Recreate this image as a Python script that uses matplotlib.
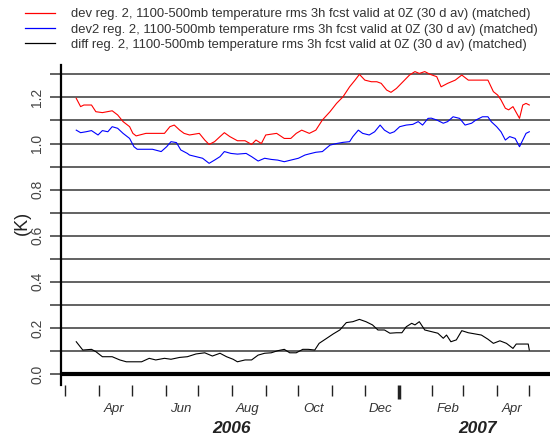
import numpy as np
import matplotlib
matplotlib.use('Agg')
from matplotlib import pyplot as plt
import matplotlib.dates as mdates
from matplotlib.lines import Line2D
from matplotlib.ticker import MultipleLocator, NullFormatter
from matplotlib.transforms import blended_transform_factory

plt.rcParams['font.family'] = ['Liberation Sans', 'DejaVu Sans']

# Datos (días desde 2006-03-01, valor en K)
start = np.datetime64('2006-03-01')

red_days = [10, 14, 17, 24, 28, 34, 43, 48, 53, 59, 62, 65, 74, 83, 91, 96, 100, 105, 109, 114,
            123, 128, 132, 137, 142, 146, 151, 158, 165, 171, 175, 180, 184, 194, 201, 207, 212,
            217, 224, 230, 236, 243, 249, 255, 261, 266, 270, 275, 281, 286, 290, 295, 299, 304,
            310, 316, 321, 325, 330, 335, 341, 345, 351, 358, 364, 370, 377, 384, 388, 393, 397,
            400, 404, 407, 411, 417, 420, 423, 426]
red_vals = [1.196, 1.160, 1.167, 1.167, 1.138, 1.134, 1.142, 1.124, 1.095, 1.073, 1.044, 1.033,
            1.044, 1.044, 1.044, 1.073, 1.080, 1.058, 1.044, 1.037,
            1.044, 1.015, 0.996, 1.008, 1.030, 1.047, 1.030, 1.012, 1.012, 0.996, 1.015, 1.000,
            1.037, 1.044, 1.022, 1.022, 1.044,
            1.058, 1.044, 1.058, 1.102, 1.138, 1.174, 1.203, 1.246, 1.275, 1.300, 1.275, 1.268,
            1.268, 1.261, 1.232, 1.222, 1.239,
            1.268, 1.297, 1.312, 1.304, 1.312, 1.300, 1.290, 1.246, 1.261, 1.275, 1.297, 1.275,
            1.275, 1.275, 1.275, 1.225, 1.210,
            1.189, 1.153, 1.146, 1.160, 1.109, 1.167, 1.174, 1.167]

blue_days = [10, 14, 19, 24, 30, 34, 39, 43, 48, 53, 59, 63, 66, 73, 80, 88, 93, 97, 102, 106,
             112, 114, 120, 126, 132, 137, 142, 146, 152, 158, 166, 171, 177, 183, 189, 195, 201,
             207, 214, 220, 224, 230, 236, 243, 249, 255, 261, 264, 269, 273, 279, 284, 289, 293,
             298, 302, 307, 313, 319, 324, 328, 333, 336, 341, 347, 351, 356, 362, 367, 373, 377,
             383, 388, 391, 396, 400, 404, 408, 413, 417, 420, 423, 426]
blue_vals = [1.058, 1.047, 1.051, 1.056, 1.037, 1.056, 1.051, 1.073, 1.066, 1.044, 1.022, 0.986,
             0.975, 0.975, 0.975, 0.965, 0.986, 1.008, 1.004, 0.972,
             0.957, 0.950, 0.943, 0.936, 0.914, 0.928, 0.943, 0.965, 0.957, 0.954, 0.957, 0.943,
             0.924, 0.936, 0.931, 0.928, 0.921,
             0.928, 0.936, 0.950, 0.955, 0.962, 0.965, 0.993, 1.000, 1.005, 1.008, 1.030, 1.058,
             1.044, 1.037, 1.051, 1.080, 1.058,
             1.044, 1.051, 1.073, 1.080, 1.083, 1.095, 1.080, 1.109, 1.110, 1.102, 1.088, 1.095,
             1.116, 1.109, 1.080, 1.088, 1.102,
             1.116, 1.116, 1.095, 1.073, 1.051, 1.015, 1.030, 1.022, 0.986, 1.015, 1.044, 1.051]

diff_days = [10, 16, 24, 28, 34, 43, 50, 56, 63, 70, 77, 83, 91, 97, 105, 112, 120, 128, 135,
             142, 148, 154, 158, 165, 171, 177, 183, 189, 195, 201, 206, 212, 218, 223, 229, 233,
             240, 246, 252, 258, 264, 270, 276, 282, 287, 293, 298, 304, 309, 313, 318, 321, 325,
             330, 336, 342, 347, 350, 354, 359, 364, 370, 376, 382, 388, 393, 399, 405, 411, 414,
             419, 425, 426]
diff_vals = [0.140, 0.104, 0.107, 0.097, 0.075, 0.075, 0.061, 0.053, 0.053, 0.053, 0.068, 0.061,
             0.068, 0.064, 0.072, 0.075, 0.087, 0.092, 0.078,
             0.090, 0.075, 0.064, 0.053, 0.061, 0.061, 0.082, 0.090, 0.092, 0.101, 0.107, 0.092,
             0.092, 0.107, 0.107, 0.104, 0.133,
             0.155, 0.174, 0.191, 0.223, 0.227, 0.237, 0.227, 0.213, 0.191, 0.191, 0.177, 0.179,
             0.179, 0.205, 0.220, 0.213, 0.227,
             0.191, 0.184, 0.177, 0.155, 0.169, 0.140, 0.148, 0.188, 0.179, 0.174, 0.169, 0.151,
             0.133, 0.144, 0.133, 0.111, 0.130,
             0.130, 0.130, 0.104]

labels = ['dev reg. 2, 1100-500mb temperature rms 3h fcst valid at 0Z (30 d av) (matched)',
          'dev2 reg. 2, 1100-500mb temperature rms 3h fcst valid at 0Z (30 d av) (matched)',
          'diff reg. 2, 1100-500mb temperature rms 3h fcst valid at 0Z (30 d av) (matched)']
colors = ['#ff0000', '#0000ff', '#000000']

fig = plt.figure(figsize=(5.57, 4.40), dpi=100)
W, H = 557, 440
ax = fig.add_axes([61 / W, 55 / H, 489 / W, 320 / H])

# Líneas de datos
for d, v, c in [(red_days, red_vals, colors[0]), (blue_days, blue_vals, colors[1]),
                (diff_days, diff_vals, colors[2])]:
    ax.plot(start + np.array(d), v, color=c, lw=0.8, zorder=3)

# Rejilla horizontal cada 0.1 y línea gruesa en cero
for yv in np.arange(0.1, 1.31, 0.1):
    ax.axhline(yv, color='#555555', lw=1.3, zorder=1)
ax.axhline(0.0, color='black', lw=3.0, zorder=2)

ax.set_ylim(-0.0477, 1.3406)
ax.set_xlim(np.datetime64('2006-02-25'), np.datetime64('2007-05-20'))

# Ejes
for s in ['top', 'right', 'bottom']:
    ax.spines[s].set_visible(False)
ax.spines['left'].set_linewidth(1.6)

ax.yaxis.set_major_locator(MultipleLocator(0.2))
ax.yaxis.set_minor_locator(MultipleLocator(0.1))
ax.yaxis.set_major_formatter(matplotlib.ticker.FormatStrFormatter('%.1f'))
ax.tick_params(axis='y', which='both', length=8, width=1.3, color='#555555',
               labelsize=10, labelcolor='#444444', pad=4)
for t in ax.get_yticklabels():
    t.set_rotation(90)
    t.set_va('center')

# Ticks mensuales y etiquetas a mitad de mes
ax.xaxis.set_major_locator(mdates.MonthLocator())
ax.xaxis.set_major_formatter(NullFormatter())
ax.xaxis.set_minor_locator(mdates.MonthLocator(bymonth=[2, 4, 6, 8, 10, 12], bymonthday=15))
ax.xaxis.set_minor_formatter(mdates.DateFormatter('%b'))
ax.tick_params(axis='x', which='major', length=8, width=1.0, color='#222222')
ax.tick_params(axis='x', which='minor', length=0, pad=13, labelsize=9.5, labelcolor='#333333')
for t in ax.xaxis.get_minorticklabels():
    t.set_fontstyle('italic')

# Tick grueso en el cambio de año
for tk in ax.xaxis.get_major_ticks():
    if mdates.num2date(tk.get_loc()).month == 1:
        tk.tick1line.set_markeredgewidth(2.5)
        tk.tick1line.set_markersize(10)

# Etiquetas de año
trans = blended_transform_factory(ax.transData, fig.transFigure)
ax.text(mdates.date2num(np.datetime64('2006-08-01')), 12 / H, '2006', transform=trans,
        ha='center', va='center', fontsize=12.5, fontweight='bold', fontstyle='italic', color='#222222')
ax.text(mdates.date2num(np.datetime64('2007-03-14')), 12 / H, '2007', transform=trans,
        ha='center', va='center', fontsize=12.5, fontweight='bold', fontstyle='italic', color='#222222')

fig.text(22 / W, 1 - 223 / H, '(K)', rotation=90, ha='center', va='center', fontsize=13, color='#222222')

# Leyenda manual arriba
for i, (lab, c) in enumerate(zip(labels, colors)):
    yy = 1 - (13.5 + 15 * i) / H
    fig.add_artist(Line2D([25 / W, 55 / W], [yy, yy], color=c, lw=0.9, transform=fig.transFigure))
    fig.text(71 / W, yy - 1.0 / H, lab, ha='left', va='center', fontsize=9.4, color='#333333')

fig.savefig('out.png', dpi=100)
